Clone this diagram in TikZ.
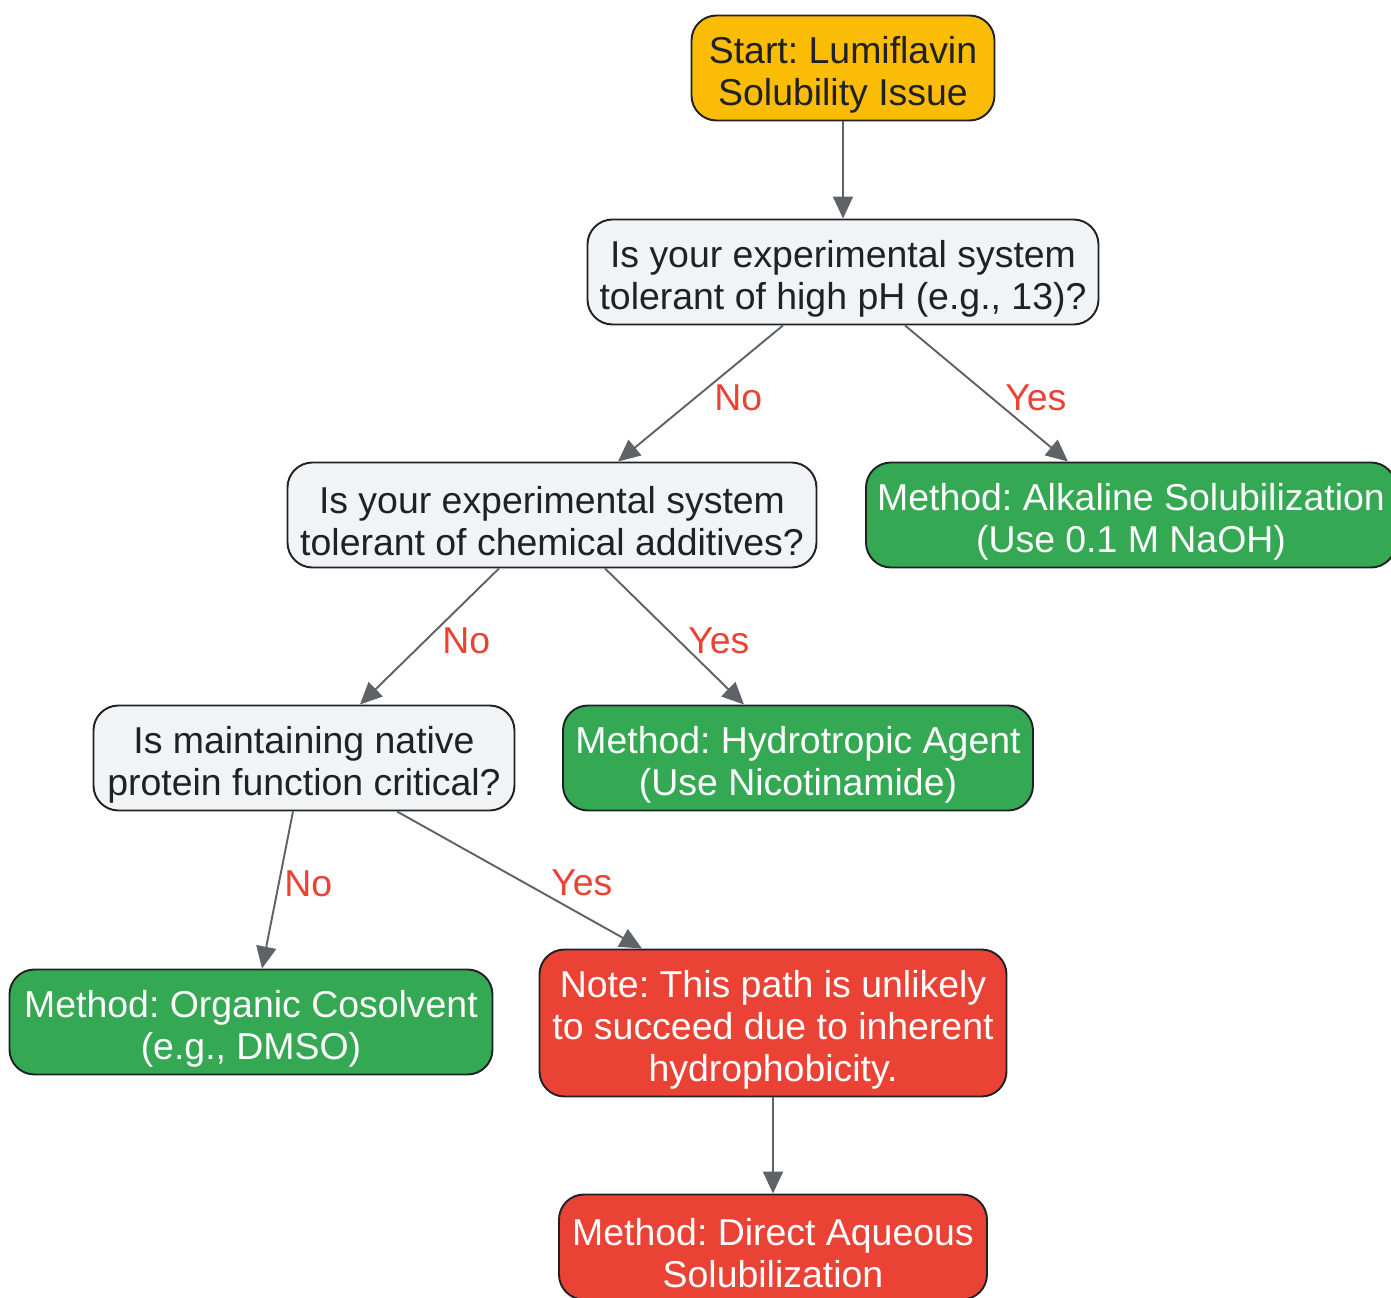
\documentclass[tikz,border=0pt]{standalone}
\usepackage{fontspec}
\setmainfont{Liberation Sans}
\frenchspacing
\usetikzlibrary{arrows.meta}
\definecolor{startOrange}{HTML}{FBBC05}
\definecolor{askGray}{HTML}{F1F3F4}
\definecolor{okGreen}{HTML}{34A853}
\definecolor{badRed}{HTML}{EA4335}
\definecolor{edgeGray}{HTML}{5F6368}
\definecolor{inkDark}{HTML}{202124}
\newcommand{\topgap}{\rule{0pt}{0.8cm}}
\begin{document}
\begin{tikzpicture} [
      box/.style={draw=inkDark, line width=1.1pt, rectangle, rounded corners=0.5cm,
        align=center, minimum height=2.1cm, inner ysep=0pt,
        font=\fontsize{21.3}{23.9}\selectfont},
      start/.style={box, fill=startOrange, text=inkDark},
      question/.style={box, fill=askGray, text=inkDark},
      method/.style={box, fill=okGreen, text=white},
      warning/.style={box, fill=badRed, text=white},
      flow/.style={draw=edgeGray, line width=1.1pt, -{Triangle[length=0.44cm, width=0.4cm]}},
      answer/.style={text=badRed, font=\fontsize{21.3}{24}\selectfont}
   ]
    \useasboundingbox (-16.86, 1.36) rectangle (10.96, -24.6);
    \node[start, minimum width=6.06cm] (ndStart) {\topgap Start: Lumiflavin\\Solubility Issue};
    \node[question, minimum width=10.22cm, below of=ndStart, node distance=4.08cm] (ndPh) {
      \topgap Is your experimental system\\tolerant of high pH (e.g., 13)?
    };
    \node[question, minimum width=10.58cm, below of=ndPh, node distance=4.86cm, xshift=-5.82cm] (ndAdditive) {
      \topgap Is your experimental system\\tolerant of chemical additives?
    };
    \node[method, minimum width=10.6cm, below of=ndPh, node distance=4.86cm, xshift=5.76cm] (ndAlkaline) {
      \topgap Method: Alkaline Solubilization\\(Use 0.1 M NaOH)
    };
    \node[question, minimum width=8.42cm, below of=ndAdditive, node distance=4.86cm, xshift=-4.96cm] (ndNative) {
      \topgap Is maintaining native\\protein function critical?
    };
    \node[method, minimum width=9.4cm, below of=ndAdditive, node distance=4.86cm, xshift=4.92cm] (ndHydro) {
      \topgap Method: Hydrotropic Agent\\(Use Nicotinamide)
    };
    \node[method, minimum width=9.66cm, below of=ndNative, node distance=5.28cm, xshift=-1.06cm] (ndCosolvent) {
      \topgap Method: Organic Cosolvent\\(e.g., DMSO)
    };
    \node[warning, minimum width=9.34cm, minimum height=2.94cm, below of=ndNative, node distance=5.3cm, xshift=9.38cm] (ndNote) {
      \topgap Note: This path is unlikely\\to succeed due to inherent\\hydrophobicity.
    };
    \node[warning, minimum width=8.56cm, below of=ndNote, node distance=4.48cm] (ndAqueous) {
      \topgap Method: Direct Aqueous\\Solubilization
    };

    \draw[flow] (ndStart) -- (ndPh);
    \draw[flow] (ndPh.south -| -1.2, 0) -- node[answer, right, xshift=0.14cm, yshift=-0.08cm]{No} (ndAdditive.north -| -4.5, 0);
    \draw[flow] (ndPh.south -| 1.24, 0) -- node[answer, right, xshift=0.24cm, yshift=-0.08cm]{Yes} (ndAlkaline.north -| 4.5, 0);
    \draw[flow] (ndAdditive.south -| -6.88, 0) -- node[answer, right, xshift=0.12cm, yshift=-0.08cm]{No} (ndNative.north -| -9.66, 0);
    \draw[flow] (ndAdditive.south -| -4.76, 0) -- node[answer, right, xshift=0.14cm, yshift=-0.08cm]{Yes} (ndHydro.north -| -1.98, 0);
    \draw[flow] (ndNative.south -| -11.0, 0) -- node[answer, right, yshift=0.12cm]{No} (ndCosolvent.north -| -11.62, 0);
    \draw[flow] (ndNative.south -| -8.92, 0) -- node[answer, right, xshift=0.5cm, yshift=-0.06cm]{Yes} (ndNote.north -| -4.02, 0);
    \draw[flow] (ndNote) -- (ndAqueous);
  \end{tikzpicture}
\end{document}
